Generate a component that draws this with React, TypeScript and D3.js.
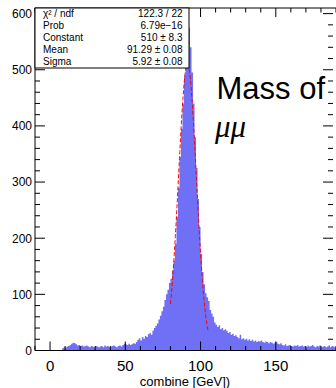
import React from "react";
import * as d3 from "d3";

// ---- data (1 GeV bins, lower edges from 0 to 189) ----
const binStart = 0;
const binWidth = 1;
const counts: number[] = [
  0, 0, 0, 0, 0, 0, 0, 0, 4, 6,
  5, 7, 8, 10, 12, 14, 13, 11, 9, 10,
  8, 9, 7, 8, 9, 7, 6, 8, 7, 6,
  8, 7, 6, 7, 8, 6, 9, 7, 8, 6,
  7, 8, 9, 7, 6, 8, 9, 7, 10, 12,
  11, 10, 12, 10, 11, 13, 12, 15, 19, 22,
  18, 24, 21, 26, 24, 29, 31, 28, 35, 40,
  44, 48, 55, 62, 70, 78, 90, 100, 108, 120,
  128, 142, 160, 190, 238, 290, 345, 395, 440, 490,
  545, 580, 575, 540, 495, 440, 380, 325, 270, 220,
  172, 140, 118, 102, 95, 88, 72, 66, 60, 50,
  46, 42, 45, 38, 40, 36, 38, 35, 31, 33,
  28, 30, 26, 27, 24, 22, 28, 20, 22, 19,
  21, 18, 20, 17, 19, 16, 18, 15, 17, 16,
  18, 15, 14, 16, 15, 13, 15, 14, 12, 14,
  15, 12, 11, 13, 10, 9, 11, 8, 9, 10,
  8, 7, 9, 8, 10, 7, 8, 9, 7, 8,
  6, 9, 7, 8, 10, 7, 6, 8, 7, 9,
  6, 7, 8, 6, 7, 9, 6, 8, 7, 6,
];

// fit parameters (gaus) and range
const fitConstant = 510;
const fitMean = 91.29;
const fitSigma = 5.92;
const fitRange = [80, 105];

const statLabels = ["χ² / ndf", "Prob", "Constant", "Mean", "Sigma"];
const statValues = ["122.3 / 22", "6.79e−16", "510 ± 8.3", "91.29 ± 0.08", "5.92 ± 0.08"];

const xTickLabels = [0, 50, 100, 150];
const yTickLabels = [0, 100, 200, 300, 400, 500, 600];
const xTitle = "combine [GeV])";

const FONT = "'Liberation Sans', Arial, Helvetica, sans-serif";

export default function App() {
  const W = 336, H = 388;
  const left = 35, right = 336, top = 8, bottom = 350.5;
  const x = d3.scaleLinear().domain([-10, 190]).range([left, right]);
  const y = d3.scaleLinear().domain([0, 610]).range([bottom, top]);

  const pts: [number, number][] = counts.map((c, i) => [binStart + i * binWidth, c]);
  pts.push([binStart + counts.length * binWidth, counts[counts.length - 1]]);
  const area = d3
    .area<[number, number]>()
    .x((d) => x(d[0]))
    .y0(y(0))
    .y1((d) => y(d[1]))
    .curve(d3.curveStepAfter);

  const fitPts: [number, number][] = d3
    .range(fitRange[0], fitRange[1] + 0.001, 0.25)
    .map((m) => [m, fitConstant * Math.exp(-0.5 * ((m - fitMean) / fitSigma) ** 2)]);
  const line = d3
    .line<[number, number]>()
    .x((d) => x(d[0]))
    .y((d) => y(d[1]));

  const yMinor = d3.range(0, 611, 20);
  const xMinor = d3.range(-10, 191, 10);

  const boxL = left, boxR = 189, boxT = top, boxB = 68;
  const rowY = [16.5, 28.7, 40.9, 53.1, 65.3];

  return (
    <svg width={W} height={H} style={{ position: "absolute", left: 0, top: 0 }}>
      <rect x={0} y={0} width={W} height={H} fill="#fff" />
      <path d={area(pts) || ""} fill="#7070f6" stroke="none" />
      <path d={line(fitPts) || ""} fill="none" stroke="#ff0000" strokeWidth={1} strokeDasharray="4,2" />

      {/* frame */}
      <line x1={left} x2={left} y1={top} y2={bottom} stroke="#000" />
      <line x1={left} x2={right} y1={bottom} y2={bottom} stroke="#000" />
      <line x1={left} x2={right} y1={top} y2={top} stroke="#000" />

      {/* y ticks */}
      {yMinor.map((v) => {
        const major = v % 100 === 0;
        const len = major ? 10 : 5;
        return (
          <g key={"y" + v}>
            <line x1={left} x2={left + len} y1={y(v)} y2={y(v)} stroke="#000" />
            <line x1={right - 3 - len} x2={right - 3} y1={y(v)} y2={y(v)} stroke="#000" />
          </g>
        );
      })}
      {xMinor.map((v) => {
        const major = v % 50 === 0;
        const len = major ? 9 : 4.5;
        return (
          <g key={"x" + v}>
            <line x1={x(v)} x2={x(v)} y1={bottom} y2={bottom - len} stroke="#000" />
            <line x1={x(v)} x2={x(v)} y1={top} y2={top + len} stroke="#000" />
          </g>
        );
      })}

      {yTickLabels.map((v) => (
        <text key={"yl" + v} x={32} y={y(v) + 4.3} textAnchor="end" fontFamily={FONT} fontSize={12} fill="#000">
          {v}
        </text>
      ))}
      {xTickLabels.map((v) => (
        <text key={"xl" + v} x={x(v)} y={370.5} textAnchor="middle" fontFamily={FONT} fontSize={15} fill="#000">
          {v}
        </text>
      ))}
      <text x={185} y={386} textAnchor="middle" fontFamily={FONT} fontSize={13} fill="#000">
        {xTitle}
      </text>

      {/* stats box */}
      <rect x={boxL} y={boxT} width={boxR - boxL} height={boxB - boxT} fill="#fff" stroke="#000" />
      {statLabels.map((s, i) => (
        <text key={"sl" + i} x={43} y={rowY[i]} fontFamily={FONT} fontSize={10} fill="#000">
          {s}
        </text>
      ))}
      {statValues.map((s, i) => (
        <text key={"sv" + i} x={182.5} y={rowY[i]} textAnchor="end" fontFamily={FONT} fontSize={10} fill="#000">
          {s}
        </text>
      ))}

      <text x={216.5} y={99.3} fontFamily={FONT} fontSize={31} fill="#000">
        Mass of
      </text>
      <text x={215} y={136.7} fontFamily="'Liberation Serif', 'DejaVu Serif', serif" fontStyle="italic" fontSize={31} fill="#000">
        μμ
      </text>
    </svg>
  );
}
